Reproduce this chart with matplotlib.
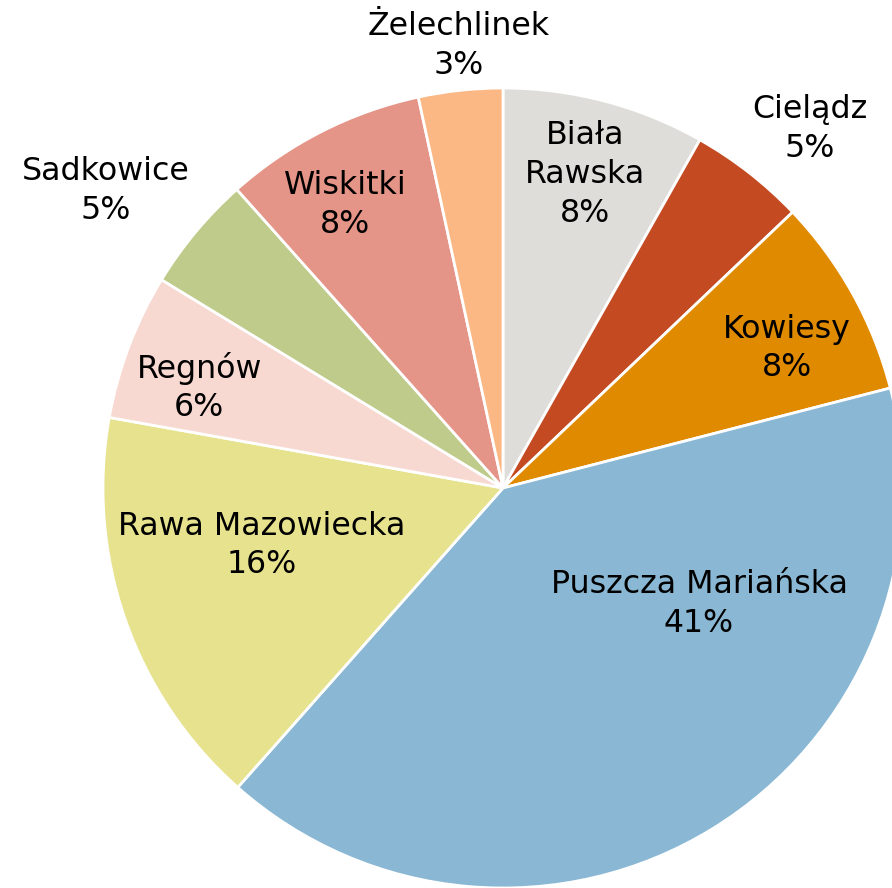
import numpy as np
import matplotlib.pyplot as plt

# gminy, udział procentowy (odczyt z wykresu)
names = ['Biała\nRawska', 'Cielądz', 'Kowiesy', 'Puszcza Mariańska',
         'Rawa Mazowiecka', 'Regnów', 'Sadkowice', 'Wiskitki', 'Żelechlinek']
shares = [8.2, 4.7, 8.1, 40.6, 16.3, 5.9, 4.7, 8.2, 3.4]
pct_labels = ['8%', '5%', '8%', '41%', '16%', '6%', '5%', '8%', '3%']
colors = ['#DEDDD9', '#C44A22', '#E08A00', '#8AB8D4', '#E6E28E',
          '#F8D9D2', '#BFCB8A', '#E59488', '#FBB884']

# label placement: angle (deg clockwise from top) and radius fraction
lab_ang = [14.7, 40.5, 63.8, 120.7, 256.6, 288.3, 306.8, 330.8, 354.3]
lab_rad = [0.81, 1.18, 0.79, 0.57, 0.62, 0.80, 1.24, 0.81, 1.11]

W, H = 892, 888
fig = plt.figure(figsize=(W / 100, H / 100), dpi=100)
cx, cy, r = 503, 488, 400
ax = fig.add_axes([(cx - r) / W, (H - cy - r) / H, 2 * r / W, 2 * r / H])

ax.pie(shares, colors=colors, startangle=90, counterclock=False, radius=1,
       wedgeprops=dict(edgecolor='white', linewidth=2))
ax.set_xlim(-1, 1)
ax.set_ylim(-1, 1)
ax.axis('off')

for name, pct, a, rr in zip(names, pct_labels, lab_ang, lab_rad):
    t = np.deg2rad(a)
    ax.text(rr * np.sin(t), rr * np.cos(t), name + '\n' + pct,
            ha='center', va='center', fontsize=22.8, color='black',
            linespacing=1.33, clip_on=False)

fig.savefig('out.png', dpi=100)
